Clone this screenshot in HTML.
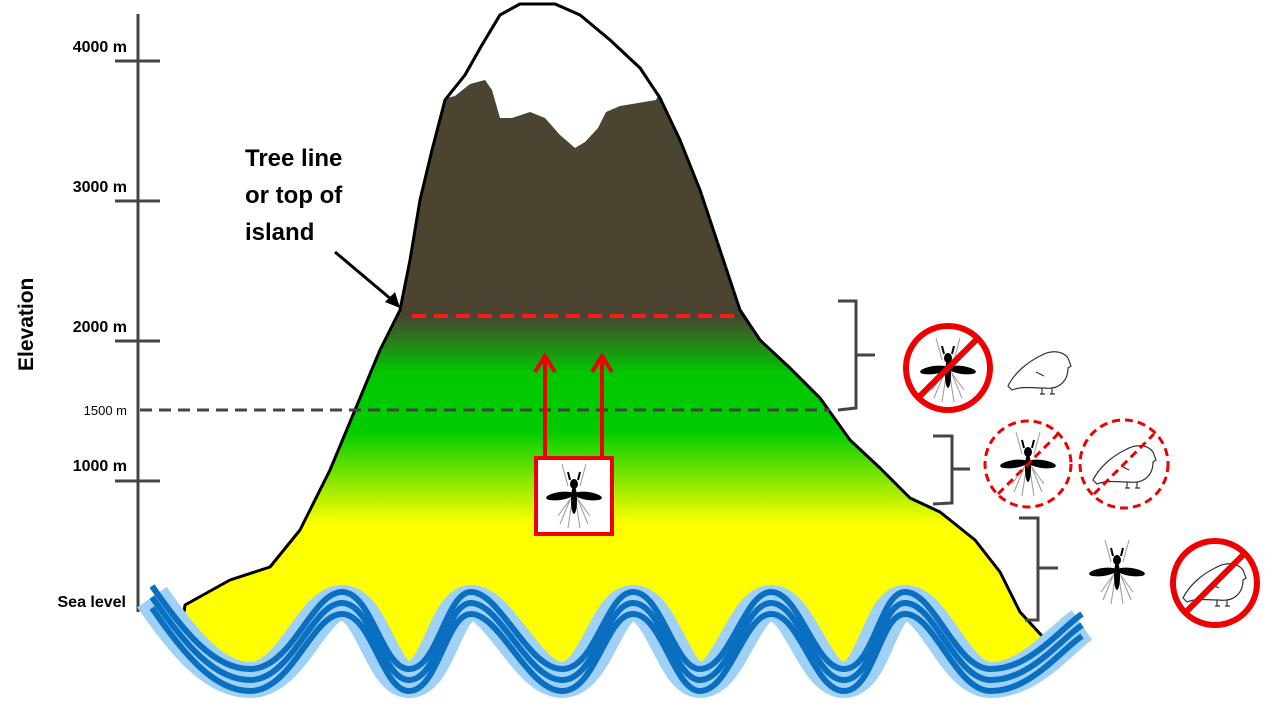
<!DOCTYPE html>
<html><head><meta charset="utf-8"><style>
html,body{margin:0;padding:0;background:#fff;}
svg{display:block;font-family:"Liberation Sans",Arial,sans-serif;}
</style></head><body>
<svg width="1266" height="718" viewBox="0 0 1266 718">
<defs>
<linearGradient id="mg" x1="0" y1="0" x2="0" y2="718" gradientUnits="userSpaceOnUse">
<stop offset="0" stop-color="#4a4430"/>
<stop offset="0.44" stop-color="#4a4430"/>
<stop offset="0.52" stop-color="#00c800"/>
<stop offset="0.60" stop-color="#00cc00"/>
<stop offset="0.73" stop-color="#ffff00"/>
<stop offset="1" stop-color="#ffff00"/>
</linearGradient>
<g id="mosq">
<g stroke="#999" stroke-width="1" fill="none">
<path d="M-6,-8 L-12,-30 M6,-8 L12,-30 M-4,6 L-14,30 M-2,8 L-6,34 M2,8 L6,34 M4,6 L14,30 M-3,4 L-16,22 M3,4 L16,22"/>
</g>
<path d="M-4,-14 L-6,-22 M4,-14 L6,-22" stroke="#000" stroke-width="2"/>
<ellipse cx="0" cy="-10" rx="4" ry="5" fill="#000"/>
<ellipse cx="0" cy="6" rx="3" ry="14" fill="#000"/>
<ellipse cx="-14" cy="2" rx="14" ry="4" fill="#000" transform="rotate(-8 -14 2)"/>
<ellipse cx="14" cy="2" rx="14" ry="4" fill="#000" transform="rotate(8 14 2)"/>
</g>
<g id="bird">
<path d="M-32,14 C-25,0 -12,-10 0,-16 C10,-22 22,-22 28,-14 L31,-6 L28,-4 C28,10 18,18 4,16 C-8,16 -18,14 -28,18 Z" fill="none" stroke="#333" stroke-width="1.2"/>
<path d="M2,16 L2,22 M12,16 L12,22 M0,22 L5,22 M10,22 L15,22 M-4,0 L4,4" stroke="#333" stroke-width="1.2" fill="none"/>
</g>
</defs>

<!-- axis -->
<g stroke="#444" stroke-width="3">
<line x1="138" y1="14" x2="138" y2="612"/>
<line x1="115" y1="61" x2="160" y2="61"/>
<line x1="115" y1="201" x2="160" y2="201"/>
<line x1="115" y1="341" x2="160" y2="341"/>
<line x1="115" y1="481" x2="160" y2="481"/>
</g>
<g font-weight="bold" font-size="16" fill="#000" text-anchor="end">
<text x="127" y="52">4000 m</text>
<text x="127" y="192">3000 m</text>
<text x="127" y="332">2000 m</text>
<text x="127" y="471">1000 m</text>
<text x="126" y="607">Sea level</text>
<text x="127" y="415" font-size="13" font-weight="normal">1500 m</text>
</g>
<text transform="translate(33,371) rotate(-90)" font-size="21" font-weight="bold">Elevation</text>

<!-- mountain -->
<path d="M180,640 L185,605 L230,580 L270,567 L300,530 L330,470 L355,410 L380,350 L400,310 L410,260 L420,200 L432,150 L445,100 L465,75 L482,45 L500,15 L520,4 L555,4 L580,15 L610,40 L640,68 L660,98 L680,140 L700,190 L720,250 L740,310 L760,340 L790,368 L820,398 L850,440 L880,468 L910,498 L940,512 L975,540 L1000,572 L1020,612 L1042,636 L1042,690 L180,690 Z" fill="url(#mg)" stroke="#000" stroke-width="3" stroke-linejoin="round"/>
<path d="M447,98 L465,75 L482,45 L500,15 L520,4 L555,4 L580,15 L610,40 L640,68 L660,92 L656,100 L620,106 L606,112 L598,128 L585,142 L575,148 L560,135 L545,118 L530,112 L512,118 L500,118 L492,90 L485,80 L470,84 L455,96 Z" fill="#fff"/>
<path d="M445,100 L465,75 L482,45 L500,15 L520,4 L555,4 L580,15 L610,40 L640,68 L660,98" fill="none" stroke="#000" stroke-width="3"/>

<!-- white below waves -->
<path d="M152,612 C185,660 215,695 250,695 C292,695 312,618 342,618 C372,618 382,695 409,695 C438,695 446,618 471,618 C500,618 528,695 562,695 C596,695 606,618 633,618 C662,618 674,695 700,695 C730,695 744,618 771,618 C800,618 814,695 844,695 C874,695 880,618 905,618 C935,618 955,695 991,695 C1030,695 1060,655 1082,640 L1090,718 L150,718 Z" fill="#fff"/>

<!-- tree line -->
<line x1="412" y1="316" x2="740" y2="316" stroke="#ff1a1a" stroke-width="4" stroke-dasharray="14,8"/>
<line x1="140" y1="410" x2="830" y2="410" stroke="#444" stroke-width="3" stroke-dasharray="12,7"/>
<line x1="335" y1="252" x2="398" y2="305" stroke="#000" stroke-width="3"/>
<path d="M400,308 L385,302 L395,292 Z" fill="#000"/>
<g font-weight="bold" font-size="24" fill="#000">
<text x="245" y="166">Tree line</text>
<text x="245" y="203">or top of</text>
<text x="245" y="240">island</text>
</g>

<!-- arrows & box -->
<g stroke="#e00" stroke-width="4" fill="none">
<line x1="545" y1="458" x2="545" y2="358"/>
<line x1="602" y1="458" x2="602" y2="358"/>
<path d="M535,372 L545,356 L555,372 M592,372 L602,356 L612,372"/>
</g>
<rect x="536" y="458" width="76" height="76" fill="#fff" stroke="#e00" stroke-width="4"/>
<use href="#mosq" x="574" y="494"/>

<!-- waves -->
<g fill="none">
<path id="w" d="M152,597 C185,645 215,680 250,680 C292,680 312,603 342,603 C372,603 382,680 409,680 C438,680 446,603 471,603 C500,603 528,680 562,680 C596,680 606,603 633,603 C662,603 674,680 700,680 C730,680 744,603 771,603 C800,603 814,680 844,680 C874,680 880,603 905,603 C935,603 955,680 991,680 C1030,680 1060,640 1082,625" stroke="#9fd0f5" stroke-width="36"/>
<path id="d" d="M152,597 C185,645 215,680 250,680 C292,680 312,603 342,603 C372,603 382,680 409,680 C438,680 446,603 471,603 C500,603 528,680 562,680 C596,680 606,603 633,603 C662,603 674,680 700,680 C730,680 744,603 771,603 C800,603 814,680 844,680 C874,680 880,603 905,603 C935,603 955,680 991,680 C1030,680 1060,640 1082,625" stroke="#0a6fc0" stroke-width="6"/>
<use href="#d" y="-11"/><use href="#d" y="11"/>
</g>

<!-- brackets -->
<g stroke="#444" stroke-width="3" fill="none">
<path d="M838,301 L856,301 L856,408 L838,410 M856,355 L875,355"/>
<path d="M933,436 L952,436 L952,503 L933,504 M952,469 L970,469"/>
<path d="M1019,518 L1038,518 L1038,620 L1025,620 M1038,568 L1058,568"/>
</g>

<!-- icons -->
<use href="#mosq" x="948" y="368"/>
<circle cx="948" cy="368" r="42" fill="none" stroke="#e00" stroke-width="6"/>
<line x1="918" y1="398" x2="978" y2="338" stroke="#e00" stroke-width="6"/>
<use href="#bird" x="1040" y="372"/>

<use href="#mosq" x="1028" y="462"/>
<circle cx="1028" cy="464" r="43" fill="none" stroke="#e00" stroke-width="3" stroke-dasharray="8,5"/>
<line x1="998" y1="494" x2="1058" y2="434" stroke="#e00" stroke-width="3" stroke-dasharray="8,5"/>
<use href="#bird" x="1125" y="466"/>
<circle cx="1124" cy="464" r="44" fill="none" stroke="#e00" stroke-width="3" stroke-dasharray="8,5"/>
<line x1="1094" y1="494" x2="1154" y2="434" stroke="#e00" stroke-width="3" stroke-dasharray="8,5"/>

<use href="#mosq" x="1117" y="570"/>
<use href="#bird" x="1215" y="584"/>
<circle cx="1215" cy="583" r="42" fill="none" stroke="#e00" stroke-width="6"/>
<line x1="1185" y1="613" x2="1245" y2="553" stroke="#e00" stroke-width="6"/>
</svg>
</body></html>
